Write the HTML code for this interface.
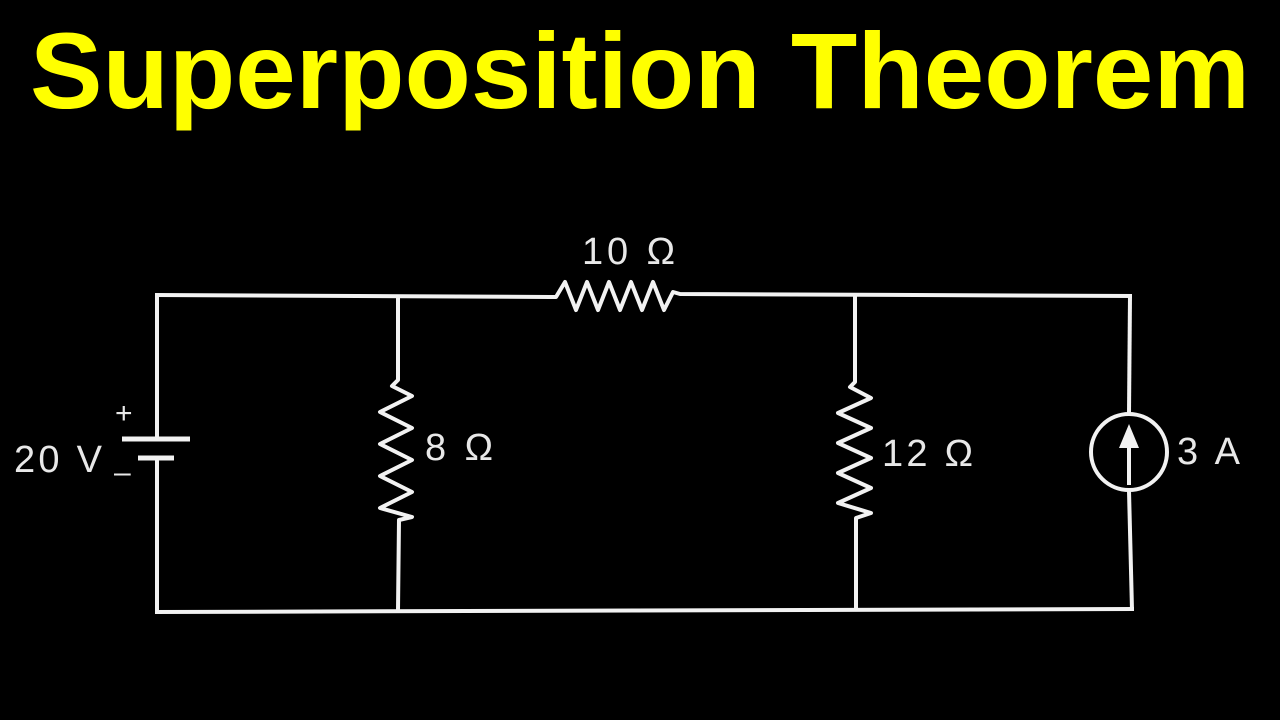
<!DOCTYPE html>
<html><head><meta charset="utf-8"><style>
html,body{margin:0;padding:0;background:#000;width:1280px;height:720px;overflow:hidden}
</style></head><body>
<svg width="1280" height="720" viewBox="0 0 1280 720" xmlns="http://www.w3.org/2000/svg">
<rect width="1280" height="720" fill="#000"/>
<text x="30" y="108" font-family="Liberation Sans, sans-serif" font-weight="bold" font-size="108" fill="#ffff00" textLength="1220" lengthAdjust="spacingAndGlyphs">Superposition Theorem</text>
<g stroke="#f2f2f2" stroke-width="4" fill="none" stroke-linejoin="round">
<polyline points="155,295 550,297 556,297 565,282 576,310 587,282 598,310 609,282 620,310 631,282 642,310 653,282 664,310 673,292 680,294 1132,296"/>
<line x1="155" y1="612" x2="1134" y2="609"/>
<line x1="157" y1="295" x2="157" y2="438"/>
<line x1="122" y1="439" x2="190" y2="439" stroke-width="5"/>
<line x1="138" y1="458" x2="174" y2="458" stroke-width="5"/>
<line x1="157" y1="458" x2="157" y2="612"/>
<polyline points="398,295 398,380 392,386 412,396 380,412 412,428 380,444 412,460 380,476 412,492 380,508 412,517 399,520 398,610"/>
<polyline points="855,296 855,382 850,387 871,398 838,413 871,428 838,443 871,458 838,473 871,488 838,503 871,513 856,518 856,610"/>
<line x1="1130" y1="296" x2="1129" y2="413"/>
<line x1="1129" y1="491" x2="1132" y2="610"/>
<circle cx="1129" cy="452" r="38"/>
<line x1="1129" y1="485" x2="1129" y2="440"/>
</g>
<polygon points="1129,424 1119,448 1139,448" fill="#f2f2f2"/>
<g font-family="Liberation Sans, DejaVu Sans, sans-serif" fill="#e8e8e8" font-size="38">
<text x="582" y="264" textLength="93">10 Ω</text>
<text x="425" y="460" textLength="68">8 Ω</text>
<text x="882" y="466" textLength="91">12 Ω</text>
<text x="1177" y="464" textLength="63">3 A</text>
<text x="14" y="472" textLength="88">20 V</text>
<text x="115" y="423" font-size="30">+</text>
<text x="114" y="482" font-size="30">–</text>
</g>
</svg>
</body></html>
